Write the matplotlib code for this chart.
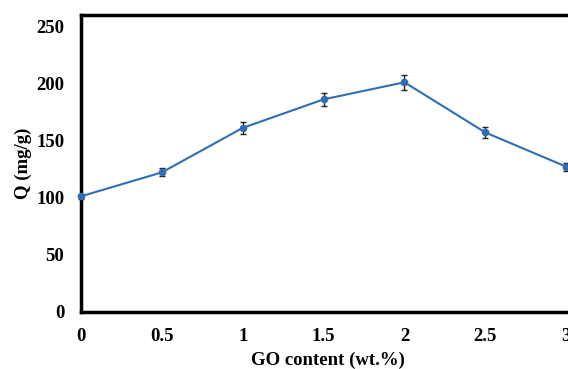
import matplotlib
matplotlib.use("Agg")
import matplotlib.pyplot as plt

go_content = [0, 0.5, 1, 1.5, 2, 2.5, 3]
q_values = [101, 122, 161, 186, 201, 157, 127]
q_errors = [2, 3.5, 5, 6, 6.5, 4.5, 3.5]
x_ticks = [0, 0.5, 1, 1.5, 2, 2.5, 3]
x_tick_labels = ["0", "0.5", "1", "1.5", "2", "2.5", "3"]
y_ticks = [0, 50, 100, 150, 200, 250]

plt.rcParams["font.family"] = ["Liberation Serif", "DejaVu Serif"]
plt.rcParams["font.weight"] = "bold"

fig = plt.figure(figsize=(5.68, 3.69), dpi=100)
ax = fig.add_axes([81 / 568, 57.5 / 369, 1.011 - 81 / 568, 296.5 / 369])

ax.errorbar(
    go_content, q_values, yerr=q_errors,
    color="#2f6eb5", lw=1.5, marker="o", ms=4.5,
    ecolor="#222222", elinewidth=1.0, capsize=2.5, capthick=1.0,
    clip_on=False, zorder=3,
)

ax.set_xlim(0, 3.05)
ax.set_ylim(0, 260)
ax.set_xticks(x_ticks)
ax.set_xticklabels(x_tick_labels)
ax.set_yticks(y_ticks)
ax.tick_params(axis="both", length=0, labelsize=13.5)
ax.tick_params(axis="x", pad=12)
ax.tick_params(axis="y", pad=12)
for lbl in ax.get_xticklabels() + ax.get_yticklabels():
    lbl.set_fontweight("bold")

for spine in ax.spines.values():
    spine.set_linewidth(2.5)
    spine.set_color("black")

ax.set_xlabel("GO content (wt.%)", fontsize=13.5, fontweight="bold", labelpad=5)
ax.set_ylabel("Q (mg/g)", fontsize=13.5, fontweight="bold", labelpad=3)

fig.savefig("out.png", dpi=100)
